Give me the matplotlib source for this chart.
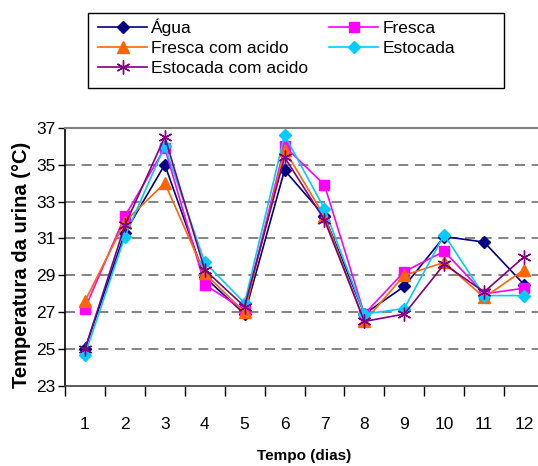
import numpy as np
import matplotlib
matplotlib.use("Agg")
import matplotlib.pyplot as plt
from matplotlib.patches import Rectangle

plt.rcParams["font.family"] = ["Liberation Sans", "DejaVu Sans"]

# === DADOS ===
dias = [1, 2, 3, 4, 5, 6, 7, 8, 9, 10, 11, 12]
agua = [25.0, 31.3, 35.0, 28.9, 26.9, 34.7, 32.2, 26.9, 28.4, 31.1, 30.8, 28.5]
fresca = [27.2, 32.2, 35.9, 28.5, 27.1, 36.0, 33.9, 26.9, 29.2, 30.3, 28.0, 28.3]
fresca_acido = [27.6, 31.9, 34.0, 29.1, 27.0, 35.8, 32.2, 26.5, 29.0, 29.7, 27.8, 29.3]
estocada = [24.7, 31.1, 36.0, 29.7, 27.5, 36.6, 32.6, 26.9, 27.2, 31.2, 27.9, 27.9]
estocada_acido = [25.0, 31.7, 36.5, 29.3, 27.3, 35.4, 32.0, 26.5, 26.9, 29.6, 28.1, 30.0]

series = [
    ("Água", agua, "#000080", "D", 6.5),
    ("Fresca", fresca, "#FF00FF", "s", 7),
    ("Fresca com acido", fresca_acido, "#FF6600", "^", 8),
    ("Estocada", estocada, "#00CCFF", "D", 6.5),
    ("Estocada com acido", estocada_acido, "#800080", (6, 2, 0), 10),
]

W, H = 538, 466
fig = plt.figure(figsize=(W / 100, H / 100), dpi=100)
ax = fig.add_axes([65 / W, 80 / H, 479 / W, 258.3 / H])

handles = {}
for nome, vals, cor, mk, ms in series:
    ln, = ax.plot(dias, vals, color=cor, marker=mk, markersize=ms, linewidth=1.2,
                  markeredgecolor=cor, markerfacecolor=cor, label=nome)
    handles[nome] = ln

ax.set_xlim(0.5, 12.5)
ax.set_ylim(23, 37)
ax.set_yticks(np.arange(23, 38, 2))
ax.set_xticks(np.arange(0.5, 13, 1))
ax.set_xticklabels([])
ax.set_xticks(dias, minor=True)
ax.set_xticklabels([str(d) for d in dias], minor=True, fontsize=12.5)
ax.tick_params(axis="x", which="major", length=7, width=1, color="black", direction="out")
ax.tick_params(axis="x", which="minor", length=0, pad=22)
ax.tick_params(axis="y", length=5, width=1, labelsize=12.5, pad=2)

for y in range(25, 37, 2):
    ax.axhline(y, color="#707070", linestyle=(0, (6, 4)), linewidth=1.2, zorder=0)
ax.spines["top"].set_color("#808080")
ax.spines["top"].set_linewidth(1.5)
ax.spines["right"].set_visible(False)
ax.spines["left"].set_linewidth(1.2)
ax.spines["bottom"].set_linewidth(1.2)
ax.spines["bottom"].set_color("#404040")

fig.text(304 / W, 1 - 456 / H, "Tempo (dias)", fontsize=11, fontweight="bold",
         ha="center", va="center")
fig.text(22 / W, 1 - 265 / H, "Temperatura da urina (°C)", fontsize=14.5,
         fontweight="bold", rotation=90, ha="center", va="center")

# legenda: caixa desenhada à parte
fig.patches.append(Rectangle((88 / W, 1 - 88 / H), (504 - 88) / W, (88 - 12.7) / H,
                             transform=fig.transFigure, fill=False,
                             edgecolor="black", linewidth=1.0))
ordem = ["Água", "Fresca com acido", "Estocada com acido", "Fresca", "Estocada"]
leg = fig.legend([handles[n] for n in ordem], ordem, loc="upper left",
                 bbox_to_anchor=(95 / W, 1 - 15 / H), ncol=2,
                 fontsize=12.5, handlelength=2.8, handletextpad=0.25, columnspacing=1.2,
                 labelspacing=0.28, borderpad=0.2, frameon=False, borderaxespad=0)

fig.savefig("out.png", dpi=100)
